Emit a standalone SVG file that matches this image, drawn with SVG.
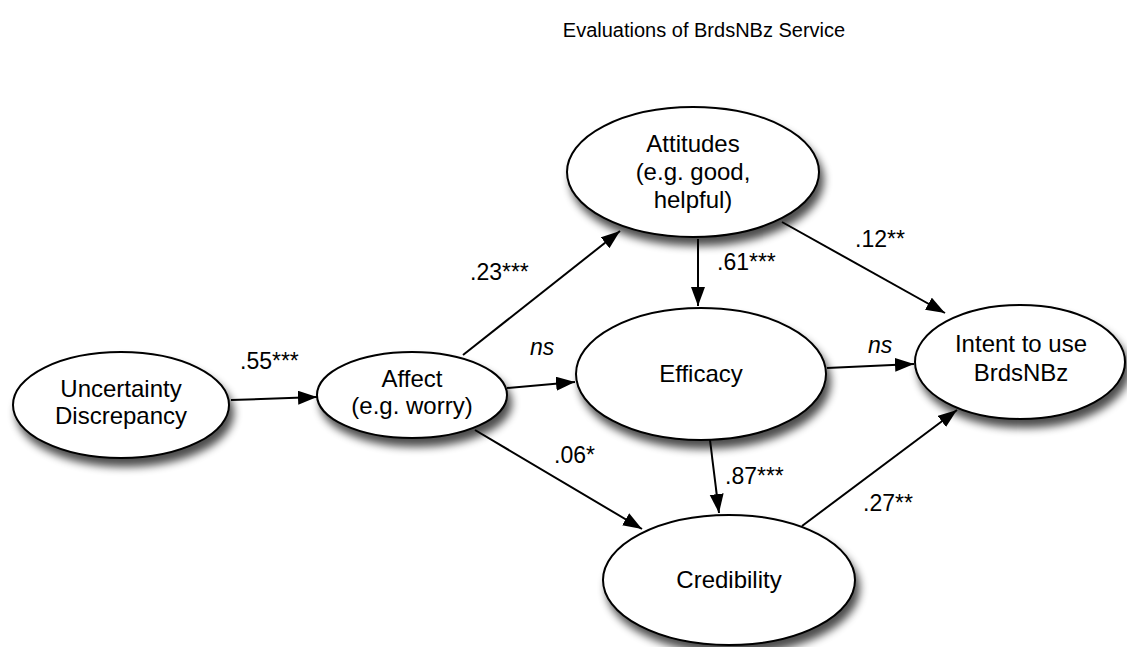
<svg xmlns="http://www.w3.org/2000/svg" width="1127" height="647" viewBox="0 0 1127 647">
  <style>
    text { font-family: "Liberation Sans", Arial, Helvetica, sans-serif; fill: #000; }
    .node { fill: #fff; stroke: #000; stroke-width: 2; filter: url(#shadow); }
    .lbl { font-size: 24px; text-anchor: middle; }
    .edge { font-size: 23px; }
    .it { font-style: italic; }
    .conn line { stroke: #000; stroke-width: 2; marker-end: url(#arrow); }
  </style>
  <defs>
    <filter id="shadow" x="-20%" y="-20%" width="150%" height="160%">
      <feGaussianBlur in="SourceAlpha" stdDeviation="4.5"/>
      <feOffset dx="4" dy="8" result="b"/>
      <feComponentTransfer><feFuncA type="linear" slope="0.7"/></feComponentTransfer>
      <feMerge><feMergeNode/><feMergeNode in="SourceGraphic"/></feMerge>
    </filter>
    <marker id="arrow" markerUnits="userSpaceOnUse" markerWidth="20" markerHeight="16" refX="19" refY="7" orient="auto">
      <path d="M0,0 L19,7 L0,14 z" fill="#000"/>
    </marker>
  </defs>

  <rect width="1127" height="647" fill="#fff"/>

  <text x="704" y="37" style="font-size:20px" text-anchor="middle">Evaluations of BrdsNBz Service</text>

  <g id="connectors" class="conn">
    <line x1="231" y1="400" x2="317" y2="397"/>
    <line x1="463" y1="355" x2="620" y2="231"/>
    <line x1="507" y1="388" x2="575" y2="382"/>
    <line x1="475" y1="430" x2="642" y2="529"/>
    <line x1="698" y1="239" x2="698" y2="306"/>
    <line x1="782" y1="222" x2="945" y2="313"/>
    <line x1="827" y1="368" x2="914" y2="364"/>
    <line x1="710" y1="440" x2="719" y2="513"/>
    <line x1="802" y1="526" x2="957" y2="410"/>
  </g>

  <g id="edge-labels">
    <text class="edge" x="240" y="369">.55***</text>
    <text class="edge" x="470" y="280">.23***</text>
    <text class="edge it" x="530" y="355">ns</text>
    <text class="edge" x="554" y="463">.06*</text>
    <text class="edge" x="717" y="270">.61***</text>
    <text class="edge" x="855" y="247">.12**</text>
    <text class="edge it" x="868" y="353">ns</text>
    <text class="edge" x="725" y="484">.87***</text>
    <text class="edge" x="863" y="511">.27**</text>
  </g>

  <g id="uncertainty">
    <ellipse class="node" cx="121" cy="405" rx="108" ry="53"/>
    <text class="lbl" x="121" y="397">Uncertainty</text>
    <text class="lbl" x="121" y="424">Discrepancy</text>
  </g>

  <g id="affect">
    <ellipse class="node" cx="412" cy="395" rx="95" ry="43"/>
    <text class="lbl" x="412" y="387">Affect</text>
    <text class="lbl" x="412" y="414">(e.g. worry)</text>
  </g>

  <g id="attitudes">
    <ellipse class="node" cx="693" cy="172" rx="126" ry="65"/>
    <text class="lbl" x="693" y="152">Attitudes</text>
    <text class="lbl" x="693" y="180">(e.g. good,</text>
    <text class="lbl" x="693" y="208">helpful)</text>
  </g>

  <g id="efficacy">
    <ellipse class="node" cx="701" cy="374" rx="125" ry="66"/>
    <text class="lbl" x="701" y="382">Efficacy</text>
  </g>

  <g id="credibility">
    <ellipse class="node" cx="729" cy="580" rx="126" ry="65"/>
    <text class="lbl" x="729" y="588">Credibility</text>
  </g>

  <g id="intent">
    <ellipse class="node" cx="1020" cy="362" rx="105" ry="57"/>
    <text class="lbl" x="1021" y="352">Intent to use</text>
    <text class="lbl" x="1021" y="381">BrdsNBz</text>
  </g>
</svg>
